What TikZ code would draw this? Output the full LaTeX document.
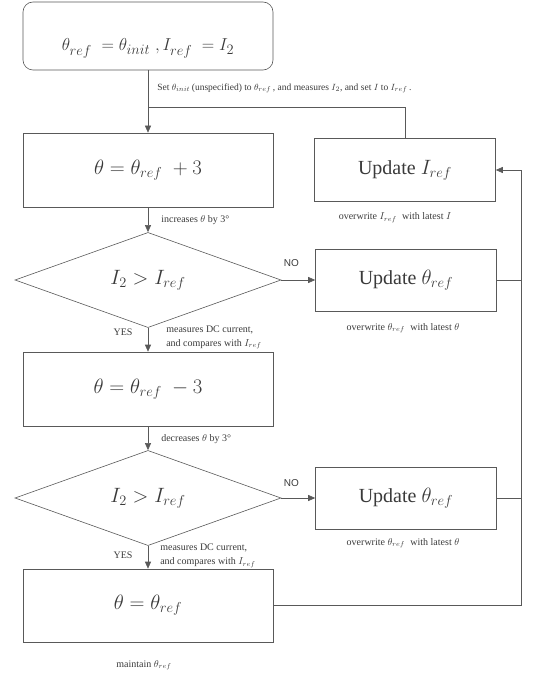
\documentclass[tikz,border=0pt]{standalone}
\usepackage{fontspec}
\setmainfont{Liberation Serif}
\newfontfamily\nosans{Liberation Sans}
\usepackage{tikz}
\usetikzlibrary{arrows.meta}
\usetikzlibrary{calc}
\usetikzlibrary{shapes.geometric}
\definecolor{flowline}{HTML}{595959}
\definecolor{flowtext}{HTML}{3A3A3A}

\begin{document}
\begin{tikzpicture}[->,>={Triangle[length=7pt,width=6pt]},auto,line width=0.6pt,color=flowline,text=flowtext]
		\tikzstyle{startbox}=[rectangle,rounded corners=10pt,draw,
			minimum width=250pt,minimum height=68pt,
			text height=34pt,text depth=4pt,
			font=\fontsize{19}{23}\selectfont];
		\tikzstyle{procbox}=[rectangle,draw,minimum width=250pt,
			minimum height=74pt,font=\fontsize{20}{24}\selectfont];
		\tikzstyle{decision}=[diamond,draw,minimum width=266pt,
			minimum height=86pt,inner sep=0pt,
			font=\fontsize{20}{24}\selectfont];
		\tikzstyle{updbox}=[rectangle,draw,minimum width=181pt,
			minimum height=62pt,font=\fontsize{20}{24}\selectfont];
		\tikzstyle{note}=[inner sep=0pt,font=\fontsize{10}{14}\selectfont];
		\tikzstyle{answer}=[inner sep=0pt,font=\nosans\fontsize{10}{12}\selectfont];
		\useasboundingbox(0pt,0pt)rectangle(542pt,-679pt);

		\node[startbox](start)at(148pt,-36pt){$\theta_{ref}\;=\theta_{init}\;,I_{ref}\;=I_2$};
		\node[procbox,below of=start,node distance=134pt](inc){$\theta=\theta_{ref}\;+3$};
		\node[decision,below of=inc,node distance=110pt](test1){$I_2>I_{ref}$};
		\node[procbox,below of=test1,node distance=109pt](dec){$\theta=\theta_{ref}\;-3$};
		\node[decision,below of=dec,node distance=109pt,minimum height=84pt](test2){$I_2>I_{ref}$};
		\node[procbox,below of=test2,node distance=107.5pt,minimum height=73pt](keep){$\theta=\theta_{ref}$};
		\node[updbox,right of=inc,node distance=257pt,minimum height=63pt](updI){Update $I_{ref}$};
		\node[updbox,right of=test1,node distance=258pt](updT1){Update $\theta_{ref}$};
		\node[updbox,right of=test2,node distance=258pt](updT2){Update $\theta_{ref}$};

		\node[note,anchor=west,font=\fontsize{9.5}{14}\selectfont](setnote)at($(start.south)+(9pt,-18pt)$){Set $\theta_{init}$\,(unspecified) to $\theta_{ref}$\,, and measures $I_2$, and set $I$ to $I_{ref}$\,.};
		\node[note,anchor=west](incnote)at($(inc.south)+(13pt,-13pt)$){increases $\theta$ by 3°};
		\node[note](updInote)at($(updI.south)+(-10pt,-16pt)$){overwrite $I_{ref}$\; with latest $I$};
		\node[answer](no1)at($(test1.east)+(10pt,17pt)$){NO};
		\node[note](updT1note)at($(updT1.south)+(-3pt,-17pt)$){overwrite $\theta_{ref}$\; with latest $\theta$};
		\node[note](yes1)at($(test1.south)+(-25pt,-4pt)$){YES};
		\node[note,anchor=west,align=left](meas1)at($(test1.south)+(18pt,-9.5pt)$){measures DC current,\\and compares with $I_{ref}$};
		\node[note,anchor=west](decnote)at($(dec.south)+(13pt,-13pt)$){decreases $\theta$ by 3°};
		\node[answer](no2)at($(test2.east)+(10pt,15pt)$){NO};
		\node[note](updT2note)at($(updT2.south)+(-3pt,-14pt)$){overwrite $\theta_{ref}$\; with latest $\theta$};
		\node[note](yes2)at($(test2.south)+(-25pt,-9pt)$){YES};
		\node[note,anchor=west,align=left](meas2)at($(test2.south)+(12pt,-10pt)$){measures DC current,\\and compares with $I_{ref}$};
		\node[note](keepnote)at($(keep.south)+(-4pt,-23pt)$){maintain $\theta_{ref}$};

		\coordinate(join)at([yshift=-37pt]start.south);
		\coordinate(rail)at([xshift=248pt]keep.east);

		\draw(start)--(inc);
		\draw[-](updI.north)|-(join);
		\draw(inc)--(test1);
		\draw(test1)--(updT1);
		\draw(test1)--(dec);
		\draw(dec)--(test2);
		\draw(test2)--(updT2);
		\draw(test2)--(keep);
		\draw(keep.east)--(rail)|-(updI.east);
		\draw[-](updT1.east)--(updT1.east-|rail);
		\draw[-](updT2.east)--(updT2.east-|rail);
	\end{tikzpicture}
\end{document}
